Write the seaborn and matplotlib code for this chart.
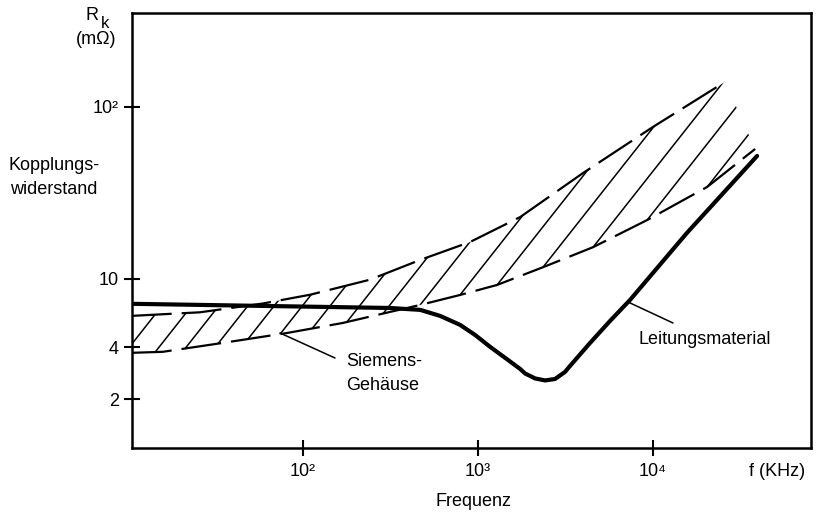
import numpy as np
import pandas as pd
import matplotlib
matplotlib.use("Agg")
import matplotlib.pyplot as plt
import matplotlib.patches as mpatches
import seaborn as sns

# Coupling resistance R_k (mOhm) vs. frequency f (kHz), log-log
# Upper and lower bounds of the "Siemens-Gehäuse" band
upper_f = [10.5, 25.8, 59, 110, 241, 467, 900, 1740, 3980, 10000, 25800]
upper_r = [6.1, 6.4, 7.2, 8.1, 9.9, 12.9, 16.4, 22.9, 41.3, 76.6, 140]
lower_f = [10.5, 15.8, 34.9, 81, 169, 314, 467, 789, 1285, 2350, 4540, 9250, 20400, 38300]
lower_r = [3.72, 3.77, 4.25, 4.85, 5.55, 6.43, 7.06, 8.07, 9.23, 11.7, 15.3, 22.0, 34.3, 57.0]

# "Leitungsmaterial" curve
line_f = [10.5, 59, 314, 467, 607, 789, 961, 1172, 1427, 1738, 1858, 2118, 2415,
          2754, 3140, 3355, 4370, 5680, 7390, 15600, 39300]
line_r = [7.17, 6.97, 6.78, 6.61, 6.10, 5.41, 4.73, 4.03, 3.48, 3.00, 2.82, 2.64, 2.57,
          2.62, 2.88, 3.12, 4.25, 5.70, 7.55, 18.5, 51.9]

# Hatch lines: where each one leaves the lower bound, and their log-log slope
hatch_f = [9.6, 14.3, 21.2, 32.7, 48.5, 74, 113, 178, 287, 467, 789, 1285, 2350, 4540, 9250, 20400]
hatch_slope = 1.29

x_ticks = [100, 1000, 10000]
x_ticklabels = ["10²", "10³", "10⁴"]
y_ticks = [2, 4, 10, 100]
y_ticklabels = ["2", "4", "10", "10²"]

sns.set_theme(style="white")
plt.rcParams["font.family"] = ["Liberation Sans", "DejaVu Sans"]

W, H = 818, 516
fig = plt.figure(figsize=(W / 100, H / 100), dpi=100)
ax = fig.add_axes([132 / W, 1 - 448 / H, (811 - 132) / W, (448 - 13) / H])
ax.set_xscale("log")
ax.set_yscale("log")
ax.set_xlim(10.54, 79900)
ax.set_ylim(1.04, 352)


def fig_xy(x, y):
    return x / W, 1 - y / H


dash = (0, (18, 4.5))
upper = pd.DataFrame({"f": upper_f, "r": upper_r})
lower = pd.DataFrame({"f": lower_f, "r": lower_r})
leit = pd.DataFrame({"f": line_f, "r": line_r})

sns.lineplot(data=upper, x="f", y="r", ax=ax, color="black", lw=1.6,
             linestyle=dash, sort=False, estimator=None)
sns.lineplot(data=lower, x="f", y="r", ax=ax, color="black", lw=1.6,
             linestyle=dash, sort=False, estimator=None)
sns.lineplot(data=leit, x="f", y="r", ax=ax, color="black", lw=3.0,
             sort=False, estimator=None, solid_joinstyle="round",
             solid_capstyle="round")

# Region between the bounds, closed on the right by joining the end points
band_verts = list(zip(upper_f, upper_r)) + list(zip(lower_f[::-1], lower_r[::-1]))
band = mpatches.Polygon(band_verts, closed=True, transform=ax.transData,
                        fill=False, lw=0)

log_lf = np.log10(lower_f)
log_lr = np.log10(lower_r)
for fa in hatch_f:
    la = np.log10(fa)
    ra = np.interp(la, log_lf, log_lr)
    lx = np.array([la - 1.5, la + 1.5])
    ly = ra + hatch_slope * (lx - la)
    ln, = ax.plot(10 ** lx, 10 ** ly, color="black", lw=1.1)
    ln.set_clip_path(band)

# Axes frame and ticks
for s in ax.spines.values():
    s.set_visible(True)
    s.set_color("black")
    s.set_linewidth(1.8)

ax.set_xticks(x_ticks)
ax.set_xticklabels(x_ticklabels)
ax.set_yticks(y_ticks)
ax.set_yticklabels(y_ticklabels)
ax.minorticks_off()
ax.tick_params(axis="both", which="major", direction="inout", length=11,
               width=1.5, color="black", labelsize=13, labelcolor="black",
               bottom=True, left=True, top=False, right=False)
ax.tick_params(axis="x", pad=5)
ax.tick_params(axis="y", pad=4)
ax.set_xlabel("")
ax.set_ylabel("")
ax.grid(False)

# Annotations
txt = dict(color="black", fontsize=13)
fig.text(*fig_xy(92, 16), "R", ha="center", va="center", **txt)
fig.text(*fig_xy(105, 24), "k", ha="center", va="center", color="black", fontsize=12)
fig.text(*fig_xy(96, 39), "(mΩ)", ha="center", va="center", **txt)
fig.text(*fig_xy(8, 166), "Kopplungs-", ha="left", va="center", **txt)
fig.text(*fig_xy(10, 190), "widerstand", ha="left", va="center", **txt)
fig.text(*fig_xy(777, 471), "f (KHz)", ha="center", va="center", **txt)
fig.text(*fig_xy(474, 502), "Frequenz", ha="center", va="center", **txt)
fig.text(*fig_xy(346, 362), "Siemens-", ha="left", va="center", **txt)
fig.text(*fig_xy(346, 385), "Gehäuse", ha="left", va="center", **txt)
fig.text(*fig_xy(638, 339), "Leitungsmaterial", ha="left", va="center", **txt)

fig.add_artist(plt.Line2D([280 / W, 335 / W], [1 - 333 / H, 1 - 358 / H],
                          color="black", lw=1.1))
fig.add_artist(plt.Line2D([628 / W, 673 / W], [1 - 302 / H, 1 - 323 / H],
                          color="black", lw=1.1))

fig.savefig("out.png", dpi=100)
